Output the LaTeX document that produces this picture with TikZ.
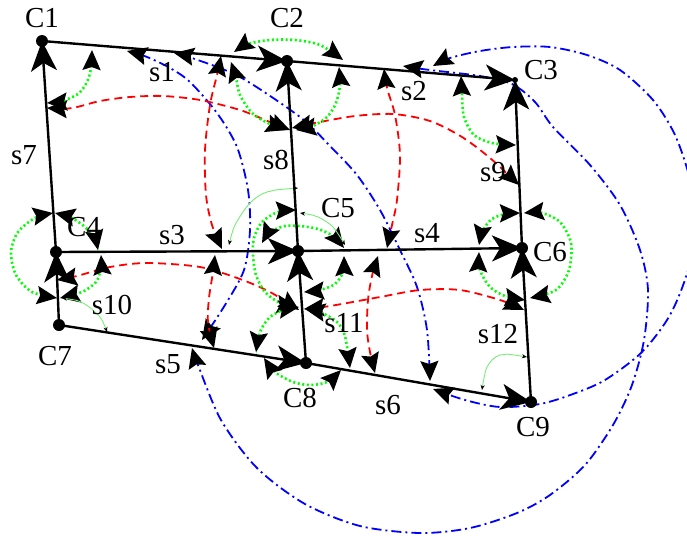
\documentclass[tikz,border=0pt]{standalone}
\usepackage{fontspec}
\setmainfont{Liberation Serif}
\usetikzlibrary{arrows.meta}
\begin{document}
\begin{tikzpicture}[x=1pt,y=-1pt,
  edge/.style={line width=2.4pt,arrows={-Stealth[length=30pt,width=26pt,inset=8pt]}},
  cvarr/.style={arrows={Stealth[length=20pt,width=18pt,inset=3pt,color=black]-Stealth[length=20pt,width=18pt,inset=3pt,color=black]}},
  smarr/.style={arrows={Stealth[length=5pt,width=4pt,inset=1.5pt,color=black]-Stealth[length=5pt,width=4pt,inset=1.5pt,color=black]}},
  redd/.style={draw=red,line width=1.8pt,dash pattern=on 8pt off 5pt,cvarr},
  blued/.style={draw=blue,line width=1.8pt,dash pattern=on 10pt off 4pt on 2pt off 4pt,cvarr},
  gdot/.style={draw={rgb,255:red,0;green,255;blue,0},line width=2.6pt,dash pattern=on 2pt off 2.6pt,cvarr},
  gthin/.style={draw={rgb,255:red,120;green,235;blue,120},line width=0.9pt,smarr},
  dot/.style={circle,fill=black,inner sep=0pt,minimum size=12pt},
  lab/.style={font=\fontsize{29}{30}\selectfont,inner sep=0pt}
]
\useasboundingbox (0,0) rectangle (687,536);
% vertices
\coordinate (C1) at (42,41);
\coordinate (C2) at (287,61);
\coordinate (C3) at (515,80);
\coordinate (C4) at (56,252);
\coordinate (C5) at (298,251);
\coordinate (C6) at (522,248);
\coordinate (C7) at (59,325);
\coordinate (C8) at (306,363);
\coordinate (C9) at (531,402);

% blue dash-dot curves
\begin{scope}
\clip (0,0) rectangle (687,536);
\draw[blued] plot[smooth] coordinates {(127,51) (147,57) (170,68) (190,82) (217,113) (237,147) (248,190) (250,230) (244,270) (225,305) (202,340)};
\draw[blued] plot[smooth] coordinates {(174,53) (192,58) (240,77) (300,117) (330,146) (357,175) (380,210) (400,250) (417,287) (427,330) (430,381)};
\draw[blued] plot[smooth] coordinates {(403,66) (430,70) (480,76) (512,84) (535,102) (553,127) (590,165) (620,205) (640,250) (648,290) (644,340) (632,385) (613,425) (585,465) (550,495) (517,513) (470,528) (420,533) (360,526) (305,504) (257,468) (221,420) (198,365) (192,348)};
\draw[blued] plot[smooth] coordinates {(433,66) (450,58) (480,51) (513,47) (550,47) (587,55) (620,70) (653,100) (675,135) (690,180) (694,225) (688,270) (670,315) (642,352) (605,380) (573,394) (540,404) (500,407) (465,400) (433,389)};
\end{scope}

% red dashed curves
\draw[redd] plot[smooth] coordinates {(47,108) (72,108) (100,101) (130,97) (163,96) (200,100) (240,110) (270,122) (290,130)};
\draw[redd] plot[smooth] coordinates {(292,128) (320,122) (355,116) (393,114) (430,121) (462,137) (490,158) (519,185)};
\draw[redd] plot[smooth] coordinates {(221,56) (217,75) (210,105) (205,150) (206,195) (212,225) (222,249)};
\draw[redd] plot[smooth] coordinates {(384,69) (387,88) (395,115) (400,155) (397,200) (392,225) (387,248)};
\draw[redd] plot[smooth] coordinates {(57,280) (77,276) (110,267) (147,263) (200,267) (240,279) (270,292) (299,310)};
\draw[redd] plot[smooth] coordinates {(304,309) (330,306) (380,297) (420,290) (460,290) (500,300) (524,310)};
\draw[redd] plot[smooth] coordinates {(215,255) (213,272) (209,298) (208,322) (214,348)};
\draw[redd] plot[smooth] coordinates {(378,256) (372,276) (368,300) (367,330) (370,352) (375,373)};

% green dotted junction curves
\draw[gdot] plot[smooth] coordinates {(47,103) (62,101) (78,94) (87,82) (91,68) (92,50)};
\draw[gdot] plot[smooth] coordinates {(234,52) (248,44) (270,40) (295,40) (320,45) (343,60)};
\draw[gdot] plot[smooth] coordinates {(231,62) (236,78) (240,95) (252,113) (268,123) (286,130)};
\draw[gdot] plot[smooth] coordinates {(339,67) (340,85) (336,103) (327,117) (313,126) (296,130)};
\draw[gdot] plot[smooth] coordinates {(461,76) (462,95) (464,117) (474,135) (492,143) (516,145)};
\draw[gdot] plot[smooth] coordinates {(53,213) (35,218) (18,232) (11,252) (16,275) (32,292) (57,298)};
\draw[gdot] plot[smooth] coordinates {(55,213) (72,218) (86,228) (95,240) (98,250)};
\draw[gdot] plot[smooth] coordinates {(101,255) (101,268) (96,282) (82,292) (60,298)};
\draw[gdot] plot[smooth] coordinates {(262,243) (270,232) (285,226) (300,226) (318,229) (333,236) (344,248)};
\draw[gdot] plot[smooth] coordinates {(296,210) (278,212) (262,222) (254,238) (253,255) (256,275) (265,292) (280,303) (297,307)};
\draw[gdot] plot[smooth] coordinates {(344,256) (343,272) (335,284) (320,290) (304,292)};
\draw[gdot] plot[smooth] coordinates {(520,213) (505,214) (492,219) (483,230) (479,245)};
\draw[gdot] plot[smooth] coordinates {(524,213) (542,213) (560,222) (571,243) (569,270) (556,290) (530,298)};
\draw[gdot] plot[smooth] coordinates {(479,252) (480,270) (490,287) (505,296) (525,300)};
\draw[gdot] plot[smooth] coordinates {(299,307) (283,310) (269,318) (260,332) (256,352)};
\draw[gdot] plot[smooth] coordinates {(305,309) (322,313) (337,322) (345,336) (350,368)};
\draw[gdot] plot[smooth] coordinates {(264,358) (275,372) (293,382) (310,385) (327,382) (341,370)};

% thin green angle markers
\draw[gthin] plot[smooth] coordinates {(298,188) (267,192) (250,203) (235,225) (229,245)};
\draw[gthin] plot[smooth] coordinates {(300,213) (318,217) (333,227) (345,245)};
\draw[gthin] plot[smooth] coordinates {(62,298) (83,303) (100,317) (107,332)};
\draw[gthin] plot[smooth] coordinates {(527,357) (500,355) (487,367) (482,390)};

% black edges
\draw[edge] (C1) -- (C2);
\draw[edge] (C2) -- (C3);
\draw[edge] (C4) -- (C1);
\draw[edge] (C7) -- (C4);
\draw[edge] (C4) -- (C5);
\draw[edge] (C5) -- (C6);
\draw[edge] (C7) -- (C8);
\draw[edge] (C8) -- (C9);
\draw[edge] (C5) -- (C2);
\draw[edge] (C8) -- (C5);
\draw[edge] (C6) -- (C3);
\draw[edge] (C9) -- (C6);

% dots
\foreach \v in {C1,C2,C4,C5,C6,C7,C8,C9} \node[dot] at (\v) {};
\node[dot,minimum size=6pt] at (C3) {};

% labels
\node[lab] (lC1) at (42,18) {C1};
\node[lab] (lC2) at (287,18) {C2};
\node[lab] (lC3) at (541,70) {C3};
\node[lab] (lC4) at (84,227) {C4};
\node[lab] (lC5) at (338,208) {C5};
\node[lab] (lC6) at (550,252) {C6};
\node[lab] (lC7) at (55,356) {C7};
\node[lab] (lC8) at (300,398) {C8};
\node[lab] (lC9) at (533,427) {C9};
\node[lab] (ls1) at (162,72) {s1};
\node[lab] (ls2) at (414,91) {s2};
\node[lab] (ls3) at (172,235) {s3};
\node[lab] (ls4) at (427,233) {s4};
\node[lab] (ls5) at (168,364) {s5};
\node[lab] (ls6) at (388,405) {s6};
\node[lab] (ls7) at (24,155) {s7};
\node[lab] (ls8) at (276,160) {s8};
\node[lab] (ls9) at (493,172) {s9};
\node[lab] (ls10) at (112,305) {s10};
\node[lab] (ls11) at (344,323) {s11};
\node[lab] (ls12) at (498,334) {s12};
\end{tikzpicture}
\end{document}
